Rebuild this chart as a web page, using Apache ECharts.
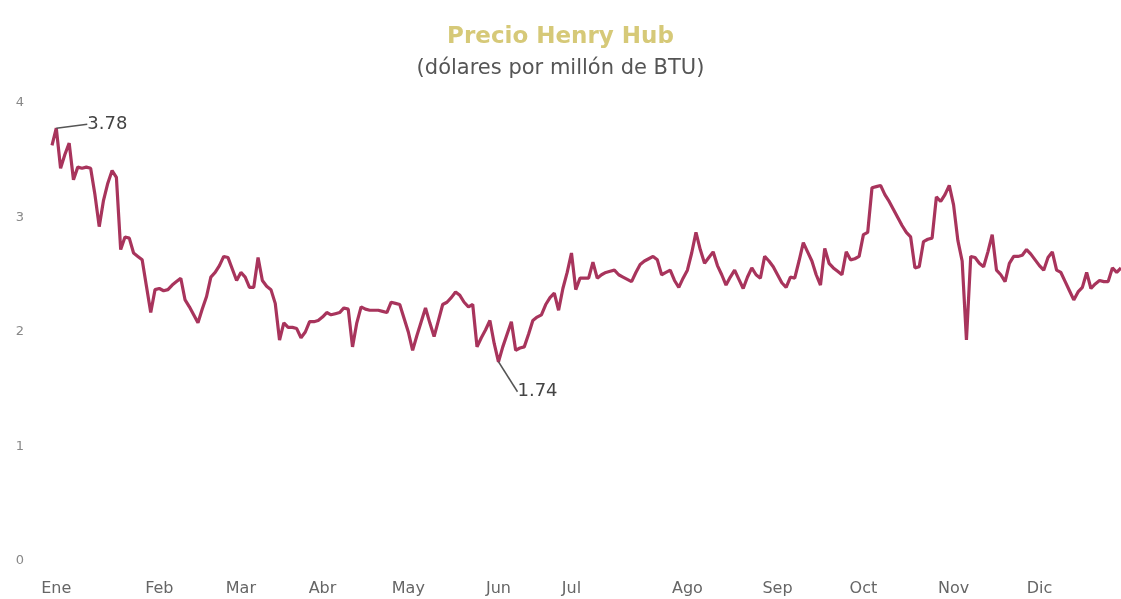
<!DOCTYPE html>
<html>
<head>
<meta charset="utf-8">
<script src="https://cdn.jsdelivr.net/npm/echarts@6/dist/echarts.min.js"></script>
<style>
  html, body { margin: 0; padding: 0; background: #fff; }
  #chart { width: 1121px; height: 599px; }
</style>
</head>
<body>
<div id="chart"></div>
<script>
// precio diario Henry Hub (USD/MMBtu)
const prices = [
  3.63, 3.78, 3.43, 3.55, 3.65, 3.33, 3.44, 3.43, 3.44, 3.43,
  3.20, 2.92, 3.15, 3.30, 3.41, 3.35, 2.72, 2.83, 2.82, 2.69,
  2.66, 2.63, 2.40, 2.17, 2.37, 2.38, 2.36, 2.37, 2.41, 2.44,
  2.47, 2.28, 2.22, 2.15, 2.08, 2.20, 2.31, 2.48, 2.52, 2.58,
  2.66, 2.65, 2.55, 2.45, 2.52, 2.48, 2.39, 2.39, 2.65, 2.45,
  2.40, 2.37, 2.25, 1.93, 2.08, 2.04, 2.04, 2.03, 1.95, 2.00,
  2.09, 2.09, 2.10, 2.13, 2.17, 2.15, 2.16, 2.17, 2.21, 2.20,
  1.87, 2.08, 2.22, 2.20, 2.19, 2.19, 2.19, 2.18, 2.17, 2.26,
  2.25, 2.24, 2.12, 2.00, 1.84, 1.97, 2.09, 2.21, 2.08, 1.96,
  2.10, 2.24, 2.26, 2.30, 2.35, 2.32, 2.26, 2.22, 2.24, 1.87,
  1.95, 2.02, 2.10, 1.90, 1.74, 1.87, 1.98, 2.09, 1.84, 1.86,
  1.87, 1.98, 2.10, 2.13, 2.15, 2.24, 2.30, 2.34, 2.19, 2.38,
  2.52, 2.69, 2.37, 2.47, 2.47, 2.47, 2.61, 2.47, 2.50, 2.52,
  2.53, 2.54, 2.50, 2.48, 2.46, 2.44, 2.52, 2.59, 2.62, 2.64,
  2.66, 2.63, 2.50, 2.52, 2.54, 2.45, 2.39, 2.47, 2.54, 2.69,
  2.87, 2.72, 2.60, 2.65, 2.70, 2.58, 2.50, 2.41, 2.48, 2.54,
  2.46, 2.38, 2.48, 2.56, 2.50, 2.47, 2.66, 2.62, 2.57, 2.50,
  2.43, 2.39, 2.48, 2.47, 2.62, 2.78, 2.70, 2.62, 2.50, 2.41,
  2.73, 2.60, 2.56, 2.53, 2.50, 2.70, 2.63, 2.64, 2.66, 2.85,
  2.87, 3.26, 3.27, 3.28, 3.20, 3.14, 3.07, 3.00, 2.93, 2.87,
  2.83, 2.56, 2.57, 2.79, 2.81, 2.82, 3.18, 3.14, 3.20, 3.28,
  3.11, 2.80, 2.62, 1.93, 2.66, 2.65, 2.60, 2.57, 2.70, 2.85,
  2.54, 2.50, 2.44, 2.60, 2.66, 2.66, 2.67, 2.72, 2.68, 2.63,
  2.58, 2.54, 2.65, 2.70, 2.54, 2.52, 2.44, 2.36, 2.28, 2.35,
  2.39, 2.52, 2.38, 2.42, 2.45, 2.44, 2.44, 2.56, 2.52, 2.56
]
const monthNames = ['Ene', 'Feb', 'Mar', 'Abr', 'May', 'Jun', 'Jul', 'Ago', 'Sep', 'Oct', 'Nov', 'Dic']
const monthLabelIdx = [1, 25, 44, 63, 83, 104, 121, 148, 169, 189, 210, 230]
const yTicks = [0, 1, 2, 3, 4]
const maxIdx = 1   // 3.78
const minIdx = 104 // 1.74

const days = prices.map((_, i) => i)
const lineColor = '#a8345c'

function annotated(v) {
  return {
    value: v,
    label: {
      show: true,
      position: 'right',
      formatter: (p) => p.value.toFixed(2),
      color: '#444', fontSize: 18, fontFamily: 'DejaVu Sans'
    },
    labelLine: { show: true, lineStyle: { color: '#555', width: 1.5 } }
  }
}

const seriesData = prices.map((v, i) => (i === maxIdx || i === minIdx) ? annotated(v) : v)

const chart = echarts.init(document.getElementById('chart'))
chart.setOption({
  backgroundColor: '#fff',
  animation: false,
  textStyle: { fontFamily: 'DejaVu Sans, sans-serif' },
  title: {
    text: 'Precio Henry Hub',
    subtext: '(dólares por millón de BTU)',
    left: 'center', top: 21, itemGap: 9,
    textStyle: { color: '#d6c978', fontSize: 23, fontWeight: 600, fontFamily: 'DejaVu Sans' },
    subtextStyle: { color: '#555', fontSize: 21, fontFamily: 'DejaVu Sans' }
  },
  grid: { left: 52, right: 0, top: 103, bottom: 38, containLabel: false },
  xAxis: {
    type: 'category',
    data: days,
    boundaryGap: false,
    axisLine: { show: false },
    axisTick: { show: false },
    axisLabel: {
      color: '#666', fontSize: 16, margin: 20,
      interval: (i) => monthLabelIdx.includes(i),
      formatter: (val) => {
        const k = monthLabelIdx.indexOf(Number(val))
        return k >= 0 ? monthNames[k] : ''
      }
    }
  },
  yAxis: {
    type: 'value',
    min: yTicks[0], max: yTicks[yTicks.length - 1], interval: 1,
    splitLine: { show: false },
    axisLine: { show: false },
    axisTick: { show: false },
    axisLabel: { color: '#888', fontSize: 13, margin: 28 }
  },
  series: [{
    type: 'line',
    data: seriesData,
    symbol: 'circle',
    symbolSize: 0,
    showSymbol: true,
    showAllSymbol: true,
    lineStyle: { color: lineColor, width: 3.2 },
    itemStyle: { color: lineColor },
    labelLayout: (p) => {
      if (p.dataIndex === maxIdx) return { dx: 26, dy: -4, hideOverlap: false }
      if (p.dataIndex === minIdx) return { dx: 14, dy: 30, hideOverlap: false }
      return { hideOverlap: false }
    },
    z: 3
  }]
})
</script>
</body>
</html>
